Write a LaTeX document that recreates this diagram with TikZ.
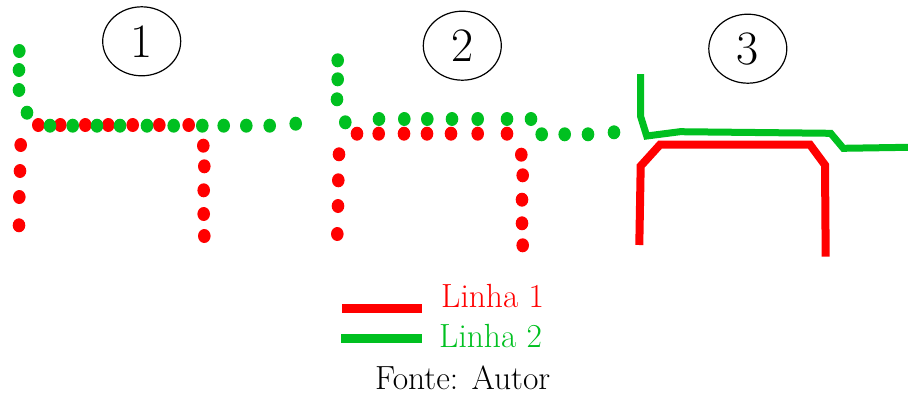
\documentclass[tikz,border=0pt]{standalone}
\definecolor{lred}{RGB}{255,0,0}
\definecolor{lgreen}{RGB}{0,192,32}
\tikzset{
  rdot/.style={fill=lred, draw=none},
  gdot/.style={fill=lgreen, draw=none},
  numcirc/.style={ellipse, draw=black, line width=1.2pt, minimum width=78pt, minimum height=69pt, inner sep=0pt, font=\fontsize{48}{50}\selectfont},
  legtext/.style={anchor=base west, inner sep=0pt, font=\fontsize{33.5}{36}\selectfont},
  rline/.style={draw=lred, line width=8pt, line join=miter},
  gline/.style={draw=lgreen, line width=7pt, line join=miter}
}
\usetikzlibrary{shapes.geometric}
\newcommand{\rd}[2]{\fill[rdot] (#1,#2) ellipse [x radius=6.3, y radius=7];}
\newcommand{\gd}[2]{\fill[gdot] (#1,#2) ellipse [x radius=6.3, y radius=7];}
\begin{document}
\begin{tikzpicture}[x=1pt,y=-1pt]
\useasboundingbox (0,0) rectangle (908,394);
% circled numbers
\node[numcirc] (c1) at (141.7,41.3) {1};
\node[numcirc] (c2) at (462.3,45.7) {2};
\node[numcirc] (c3) at (747.8,48.7) {3};
% ---- panel 1 ----
\foreach \x/\y in {20.7/145,20/171,19.3/197,19/225.3,
                   203.3/145.7,204.3/166.3,203.7/190.3,203.7/214,204.3/236}
  {\rd{\x}{\y}}
\foreach \x in {38.3,60.3,85.3,108.3,132.7,159.3,188.7} {\rd{\x}{125}}
\foreach \x/\y in {19.3/51,19/70,19/90,27/112.7} {\gd{\x}{\y}}
\foreach \x in {50,72.7,97,120,147,173.7,202.3,223.7,246.3,269.7} {\gd{\x}{125.7}}
\gd{295.7}{123.7}
% ---- panel 2 ----
\foreach \x/\y in {339/154.3,338.3/180.3,338/206,337.3/234,
                   521.3/154.7,522.7/175.3,522/199.7,522/223.3,522.7/245.3}
  {\rd{\x}{\y}}
\foreach \x in {357,378.7,404,427,451,477.7,507} {\rd{\x}{133.7}}
\foreach \x/\y in {337.7/60.3,337.7/79.3,337/99.3,345.3/122.3} {\gd{\x}{\y}}
\foreach \x in {379,404.3,427.3,452,477.7,507,531} {\gd{\x}{119}}
\foreach \x in {541.7,564.7,588} {\gd{\x}{134.3}}
\gd{614}{132.3}
% ---- panel 3 ----
\draw[gline] (640.7,74) -- (640.7,116.7) -- (646.7,136) -- (680,131.7) -- (830.7,133.3) -- (843.3,148.3) -- (908,147.3);
\draw[rline] (639.3,245) -- (640.7,166) -- (660,144.7) -- (810,144.7) -- (825,165) -- (825.7,256.7);
% ---- legend ----
\coordinate (r1) at (342,308.3);
\coordinate (r2) at (422.3,308.3);
\coordinate (g1) at (341,338.3);
\coordinate (g2) at (422.3,338.3);
\draw[draw=lred, line width=9pt] (r1) -- (r2);
\draw[draw=lgreen, line width=9pt] (g1) -- (g2);
\node[legtext, text=lred] (t1) at (441,307.7) {Linha 1};
\node[legtext, text=lgreen] (t2) at (439,347.7) {Linha 2};
\node[legtext, text=black] (t3) at (375,389) {Fonte: Autor};
\end{tikzpicture}
\end{document}
